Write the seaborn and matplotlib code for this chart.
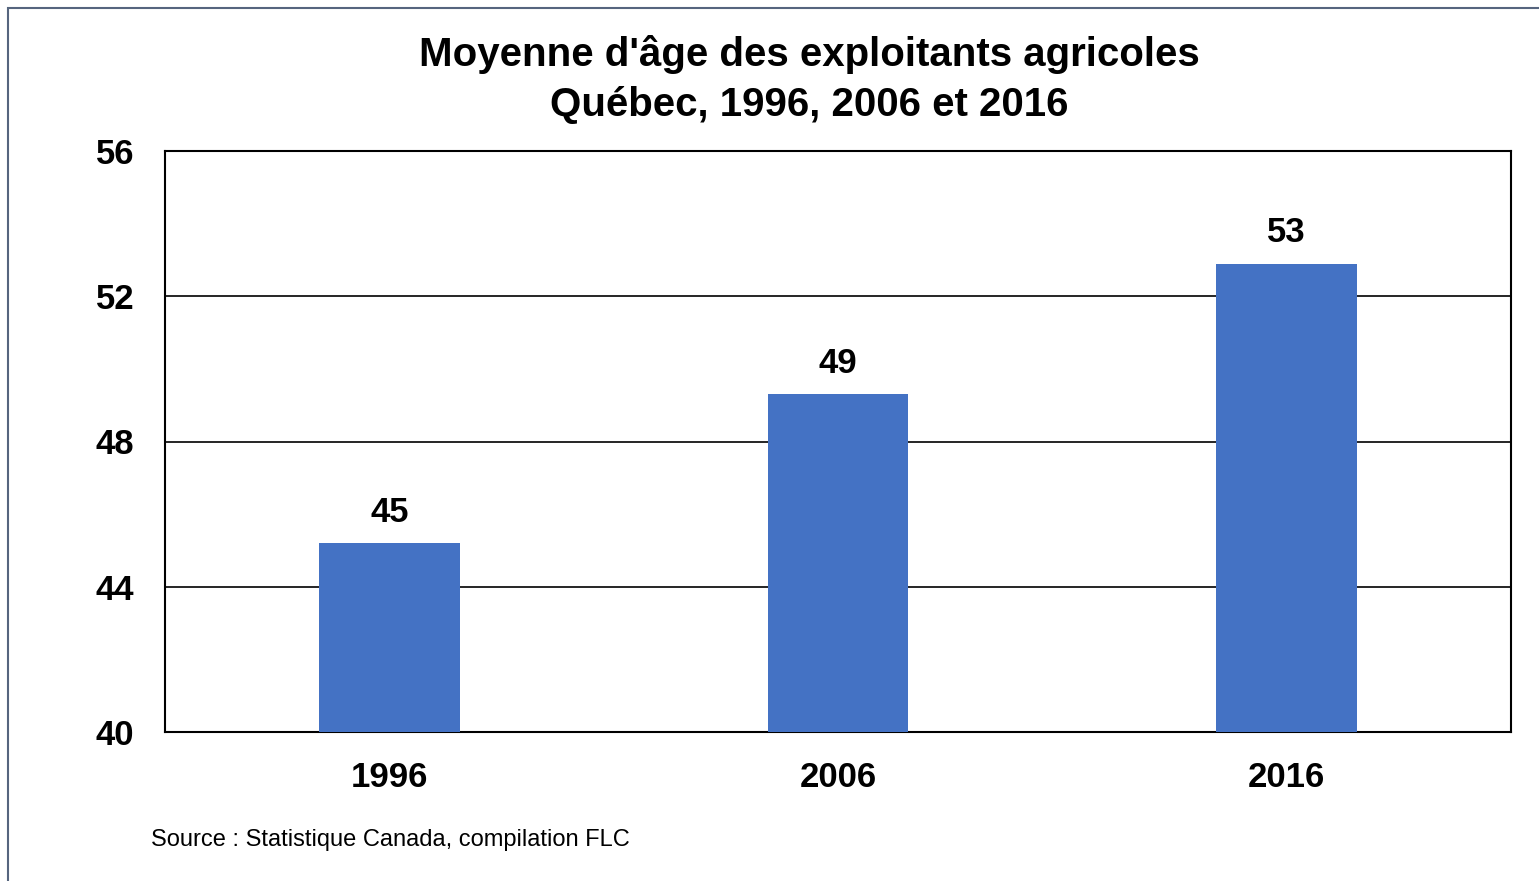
import matplotlib
matplotlib.use("Agg")
import matplotlib.pyplot as plt
import seaborn as sns
import pandas as pd
from matplotlib import font_manager
from matplotlib.patches import Rectangle

years = ["1996", "2006", "2016"]
ages = [45.2, 49.3, 52.9]
labels = ["45", "49", "53"]
yticks = [40, 44, 48, 52, 56]
title = "Moyenne d'âge des exploitants agricoles\nQuébec, 1996, 2006 et 2016"
source = "Source : Statistique Canada, compilation FLC"

sns.set_theme(style="white")
names = {f.name for f in font_manager.fontManager.ttflist}
fam = "Liberation Sans Narrow" if "Liberation Sans Narrow" in names else "Liberation Sans"
plt.rcParams['font.family'] = [fam, 'DejaVu Sans']
plt.rcParams['text.color'] = 'black'
plt.rcParams['xtick.color'] = 'black'
plt.rcParams['ytick.color'] = 'black'

df = pd.DataFrame({"year": years, "age": ages})

fig = plt.figure(figsize=(15.39, 8.81), dpi=100)
fig.patch.set_facecolor("white")
fig.add_artist(Rectangle((8/1539, -0.1), 1.2, (881-8)/881 + 0.1, transform=fig.transFigure,
                         fill=False, edgecolor="#56657e", linewidth=1.5))
ax = fig.add_axes([165/1539, (881-732)/881, (1511-165)/1539, (732-151)/881])
sns.barplot(data=df, x="year", y="age", color="#4472c4", saturation=1, width=0.314,
            linewidth=0, ax=ax, zorder=3)
ax.set_ylim(40, 56)
ax.set_xlim(-0.5, 2.5)
ax.set_yticks(yticks)
ax.set_yticklabels([str(t) for t in yticks], fontsize=25, fontweight="bold")
ax.set_xticklabels(years, fontsize=25, fontweight="bold")
ax.set_xlabel("")
ax.set_ylabel("")
ax.tick_params(axis="y", length=0, pad=22)
ax.tick_params(axis="x", length=0, pad=21)
ax.grid(axis="y", color="black", linewidth=1.2, zorder=0)
ax.set_axisbelow(True)
for s in ax.spines.values():
    s.set_color("black")
    s.set_linewidth(1.5)
for i, (v, lab) in enumerate(zip(ages, labels)):
    ax.text(i, v + 0.4, lab, ha="center", va="bottom", fontsize=25, fontweight="bold")
fig.text(0.526, 1 - 80/881, title, ha="center", va="center", fontsize=29, fontweight="bold", linespacing=1.4)
fig.text(151/1539, 1 - 840/881, source, ha="left", va="center", fontsize=17)
fig.savefig("out.png", dpi=100)
